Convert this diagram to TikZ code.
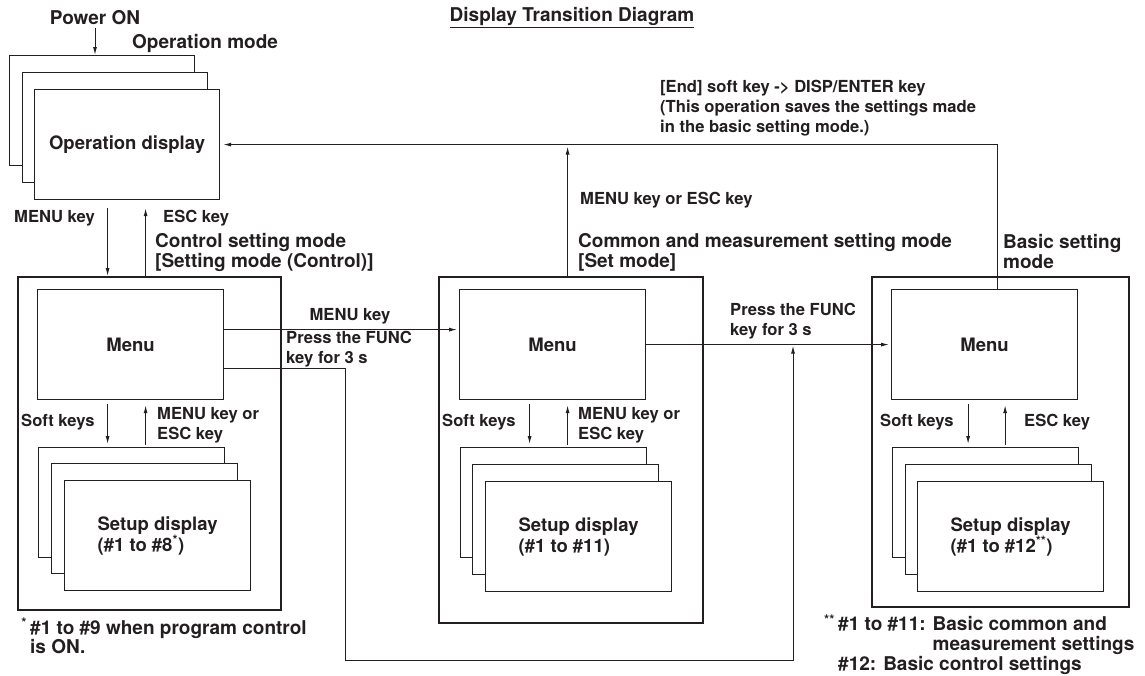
\documentclass[tikz,border=0pt]{standalone}
\usepackage{fontspec}
\setmainfont{TeX Gyre Heros}
\usetikzlibrary{arrows.meta,positioning,calc}
\definecolor{ink}{HTML}{231F20}

\begin{document}
\begin{tikzpicture}[x=1pt,y=-1pt,color=ink,
  screen/.style={draw, fill=white, line width=1.2pt, minimum width=186pt, minimum height=110pt, inner sep=0pt, anchor=north west, align=left, font=\fontsize{18.5}{21}\selectfont\bfseries},
  frame/.style={draw, line width=2pt, inner sep=0pt, anchor=north west},
  lbl/.style={anchor=west, inner sep=0pt, align=left, font=\fontsize{16.6}{20}\selectfont\bfseries},
  hdr/.style={anchor=west, inner sep=0pt, align=left, font=\fontsize{19}{20}\selectfont\bfseries},
  arr/.style={line width=1pt, -{Latex[length=8pt,width=4pt]}}
]
\useasboundingbox (0,0) rectangle (1145,675);

% Title
\node[hdr, anchor=center] (title) at (572,18) {\underline{Display Transition Diagram}};

% Operation mode
\node[hdr, anchor=center] (power) at (95,18) {Power ON};
\node[hdr] (opmode) at (132,43) {Operation mode};
\node[screen, minimum width=185pt] (opA) at (9,55) {};
\node[screen, minimum width=185pt] (opB) at (22,72) {};
\node[screen, minimum width=185pt] (opC) at (34,89) {Operation display};
\draw[arr, shorten <=3pt] (power.south) -- (power.south |- opA.north);

% Mode frames
\node[frame, minimum width=263pt, minimum height=333pt] (ctl) at (17,276) {};
\node[frame, minimum width=264pt, minimum height=346pt] (set) at (438,276) {};
\node[frame, minimum width=257pt, minimum height=330pt] (bas) at (871,276) {};
\node[hdr] (ctlhdr) at (155,252) {Control setting mode\\{[Setting mode (Control)]}};
\node[hdr] (sethdr) at (578,252) {Common and measurement setting mode\\{[Set mode]}};
\node[hdr] (bashdr) at (1003,252) {Basic setting\\mode};

% Menus
\node[screen] (menuC) at (37,289) {Menu};
\node[screen] (menuS) at (459,289) {Menu};
\node[screen] (menuB) at (891,289) {Menu};

% Setup displays
\node[screen] (setC1) at (38,447) {};
\node[screen] (setC2) at (51,463) {};
\node[screen] (setC3) at (64,480) {Setup display\\(\#1 to \#8\textsuperscript{*})};
\node[screen] (setS1) at (460,447) {};
\node[screen] (setS2) at (472,464) {};
\node[screen] (setS3) at (485,481) {Setup display\\(\#1 to \#11)};
\node[screen] (setB1) at (892,447) {};
\node[screen] (setB2) at (905,464) {};
\node[screen] (setB3) at (917,481) {Setup display\\(\#1 to \#12\textsuperscript{**})};

% Key columns
\coordinate (cD) at ([xshift=-23pt]menuC.north);
\coordinate (cU) at ([xshift=15pt]menuC.north);
\coordinate (sD) at ([xshift=-23pt]menuS.north);
\coordinate (sU) at ([xshift=15pt]menuS.north);
\coordinate (bD) at ([xshift=-16.5pt]menuB.north);
\coordinate (bU) at ([xshift=20.5pt]menuB.north);
\coordinate (bR) at ([xshift=12.5pt]menuB.north);
\coordinate (ret) at (bR |- opC.east);
\coordinate (fA) at (345,660);
\coordinate (fB) at (793,660);

% Arrows
\draw[arr, shorten <=8pt] (cD |- opC.south) -- (cD |- ctl.north);
\draw[arr, shorten >=8pt] (cU |- ctl.north) -- (cU |- opC.south);
\draw[arr, shorten <=4pt, shorten >=3pt] (cD |- menuC.south) -- (cD |- setC1.north);
\draw[arr, shorten <=2pt, shorten >=5pt] (cU |- setC1.north) -- (cU |- menuC.south);
\draw[arr, shorten <=4pt, shorten >=3pt] (sD |- menuS.south) -- (sD |- setS1.north);
\draw[arr, shorten <=2pt, shorten >=5pt] (sU |- setS1.north) -- (sU |- menuS.south);
\draw[arr, shorten <=4pt, shorten >=3pt] (bD |- menuB.south) -- (bD |- setB1.north);
\draw[arr, shorten <=2pt, shorten >=5pt] (bU |- setB1.north) -- (bU |- menuB.south);
\draw[arr, shorten >=2pt] ([yshift=15pt]menuC.east) -- ([yshift=15pt]menuS.west);
\draw[arr, shorten >=1pt] ([yshift=-24pt]menuC.east) -| (fA) -- (fB) -- (fB |- menuS.east);
\draw[arr, shorten >=2pt] (menuS.east) -- (menuB.west);
\draw[arr, shorten >=2pt] (sU |- set.north) -- (sU |- ret);
\draw[arr, shorten >=3pt] (bR) -- (ret) -- (opC.east);

% Labels
\node[lbl] (kMenu) at (14,218) {MENU key};
\node[lbl] (kEsc) at (163,218) {ESC key};
\node[lbl] (kSoftC) at (21,422) {Soft keys};
\node[lbl] (kBackC) at (157,425) {MENU key or\\ESC key};
\node[lbl, anchor=center] (kMenuCS) at (350,316) {MENU key};
\node[lbl] (kFuncC) at (286,349) {Press the FUNC\\key for 3 s};
\node[lbl] (kBackS) at (580,200) {MENU key or ESC key};
\node[lbl] (kSoftS) at (442,422) {Soft keys};
\node[lbl] (kEscS) at (578,425) {MENU key or\\ESC key};
\node[lbl] (kFuncS) at (730,321) {Press the FUNC\\key for 3 s};
\node[lbl] (kSoftB) at (880,422) {Soft keys};
\node[lbl] (kEscB) at (1024,422) {ESC key};
\node[lbl] (kEnd) at (660,108) {[End] soft key -> DISP/ENTER key\\(This operation saves the settings made\\in the basic setting mode.)};

% Footnotes
\node[hdr, font=\fontsize{19}{18}\selectfont\bfseries] (noteC) at (30,636) {\llap{\textsuperscript{*}\,}\#1 to \#9 when program control\\is ON.};
\node[hdr] (noteB) at (838,645) {\llap{\textsuperscript{**}\,}\#1 to \#11: Basic common and\\\phantom{\#1 to \#11: }measurement settings\\\#12: Basic control settings};

\end{tikzpicture}
\end{document}
